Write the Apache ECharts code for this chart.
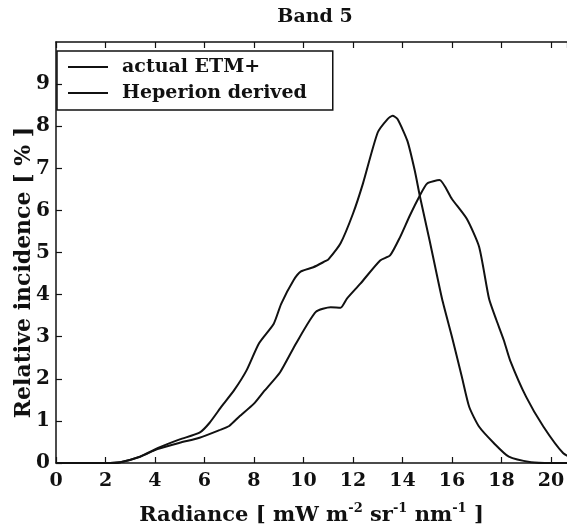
<!DOCTYPE html>
<html>
<head>
<meta charset="utf-8">
<script src="https://cdn.jsdelivr.net/npm/echarts@6/dist/echarts.min.js"></script>
<style>html,body{margin:0;padding:0;background:#fff}#c{width:567px;height:526px}</style>
</head>
<body>
<div id="c"></div>
<script>
const seriesNames = ['actual ETM+', 'Heperion derived'];
const xTicks = [0, 2, 4, 6, 8, 10, 12, 14, 16, 18, 20];
const yTicks = [0, 1, 2, 3, 4, 5, 6, 7, 8, 9];

const etmX = [0, 1, 2, 2.6, 3.4, 4.1, 5.0, 5.8, 6.2, 6.7, 7.2, 7.7, 8.2, 8.8, 9.1, 9.6, 9.9, 10.4, 10.9, 11.0, 11.5, 12.0, 12.4, 13.0, 13.4, 13.6, 13.8, 14.2, 14.5, 14.7, 15.1, 15.6, 16.0, 16.4, 16.7, 17.1, 17.7, 18.3, 19.2, 20, 20.8];
const etmY = [0, 0, 0, 0.02, 0.15, 0.35, 0.56, 0.72, 0.95, 1.35, 1.73, 2.2, 2.84, 3.31, 3.78, 4.34, 4.55, 4.65, 4.8, 4.83, 5.22, 5.92, 6.63, 7.85, 8.17, 8.25, 8.17, 7.65, 6.94, 6.35, 5.28, 3.9, 3.0, 2.05, 1.33, 0.86, 0.47, 0.15, 0.02, 0, 0];

const hypX = [0, 1, 2, 2.6, 3.4, 4.1, 5.0, 5.8, 6.6, 7.0, 7.4, 8.0, 8.4, 9.05, 9.7, 10.5, 11.1, 11.5, 11.75, 12.3, 13.1, 13.5, 13.9, 14.3, 14.7, 15.0, 15.5, 16.0, 16.6, 17.1, 17.5, 17.8, 18.1, 18.35, 19.0, 19.7, 20.5, 21.0];
const hypY = [0, 0, 0, 0.02, 0.15, 0.33, 0.48, 0.6, 0.78, 0.88, 1.1, 1.41, 1.7, 2.15, 2.84, 3.59, 3.7, 3.69, 3.9, 4.26, 4.81, 4.93, 5.36, 5.88, 6.35, 6.64, 6.72, 6.27, 5.8, 5.13, 3.9, 3.39, 2.91, 2.44, 1.57, 0.86, 0.23, 0.08];

const pairs = (xs, ys) => xs.map((x, i) => [x, ys[i]]);
const FONT = 'DejaVu Serif';

const chart = echarts.init(document.getElementById('c'), null, {renderer: 'canvas'});
chart.setOption({
  animation: false,
  backgroundColor: '#ffffff',
  title: {
    text: 'Band 5',
    left: 310, top: 3,
    textAlign: 'center',
    textStyle: {fontFamily: FONT, fontWeight: 'bold', fontSize: 19, color: '#111'}
  },
  legend: {
    orient: 'vertical',
    left: 57, top: 51,
    padding: [6, 26, 7, 11],
    itemGap: 6,
    itemWidth: 40, itemHeight: 2,
    icon: 'rect',
    borderColor: '#111', borderWidth: 1.5,
    data: seriesNames,
    textStyle: {fontFamily: FONT, fontWeight: 'bold', fontSize: 19, color: '#111', lineHeight: 20, padding: [0, 0, 0, 9]}
  },
  grid: {left: 56, right: 0, top: 42, bottom: 63, containLabel: false, outerBoundsMode: 'none'},
  xAxis: [{
    type: 'value', min: 0, max: 20.65, interval: 2,
    position: 'bottom',
    name: 'Radiance [ mW m{sup|-2} sr{sup|-1} nm{sup|-1} ]',
    nameLocation: 'middle', nameGap: 39, nameMoveOverlap: false,
    nameTextStyle: {
      fontFamily: FONT, fontWeight: 'bold', fontSize: 21, color: '#111',
      rich: {sup: {fontFamily: FONT, fontWeight: 'bold', fontSize: 13, color: '#111', padding: [0, 0, 14, 0]}}
    },
    axisLine: {lineStyle: {color: '#111', width: 1.5}},
    axisTick: {inside: true, length: 6, lineStyle: {color: '#111', width: 1.2}},
    axisLabel: {
      margin: 9, showMaxLabel: false,
      fontFamily: FONT, fontWeight: 'bold', fontSize: 19, color: '#111',
      formatter: v => (xTicks.indexOf(v) >= 0 ? String(v) : '')
    },
    splitLine: {show: false}
  }, {
    type: 'value', min: 0, max: 20.65, interval: 2,
    position: 'top',
    axisLine: {lineStyle: {color: '#111', width: 1.5}},
    axisTick: {inside: true, length: 6, lineStyle: {color: '#111', width: 1.2}},
    axisLabel: {show: false},
    splitLine: {show: false}
  }],
  yAxis: [{
    type: 'value', min: 0, max: 10, interval: 1,
    name: 'Relative incidence [ % ]',
    nameLocation: 'middle', nameGap: 21, nameMoveOverlap: false,
    nameTextStyle: {fontFamily: FONT, fontWeight: 'bold', fontSize: 22, color: '#111', padding: [0, 40, 0, 0]},
    axisLine: {show: true, lineStyle: {color: '#111', width: 1.5}},
    axisTick: {show: true, inside: true, length: 6, lineStyle: {color: '#111', width: 1.2}},
    axisLabel: {
      margin: 6, showMaxLabel: false,
      fontFamily: FONT, fontWeight: 'bold', fontSize: 20, color: '#111',
      formatter: v => (yTicks.indexOf(v) >= 0 ? String(v) : '')
    },
    splitLine: {show: false}
  }],
  series: [{
    name: seriesNames[0], type: 'line', showSymbol: false, symbol: 'none',
    smooth: 0.2,
    data: pairs(etmX, etmY),
    itemStyle: {color: '#111'},
    lineStyle: {color: '#111', width: 2}
  }, {
    name: seriesNames[1], type: 'line', showSymbol: false, symbol: 'none',
    smooth: 0.2,
    data: pairs(hypX, hypY),
    itemStyle: {color: '#111'},
    lineStyle: {color: '#111', width: 2}
  }]
});
</script>
</body>
</html>
